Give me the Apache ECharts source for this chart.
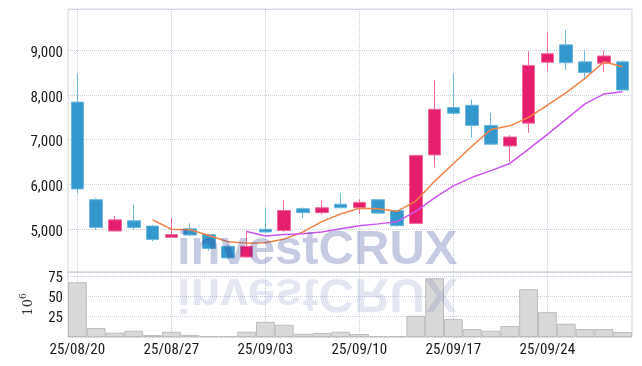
<!DOCTYPE html>
<html>
<head>
<meta charset="utf-8">
<script src="https://cdn.jsdelivr.net/npm/echarts@6/dist/echarts.min.js"></script>
<style>
html,body{margin:0;padding:0;background:#fff;}
#main{width:642px;height:366px;}
</style>
</head>
<body>
<div id="main"></div>
<script>
const dates = ['25/08/20','25/08/21','25/08/22','25/08/25','25/08/26','25/08/27','25/08/28','25/08/29','25/09/01','25/09/02','25/09/03','25/09/04','25/09/05','25/09/08','25/09/09','25/09/10','25/09/11','25/09/12','25/09/15','25/09/16','25/09/17','25/09/18','25/09/19','25/09/22','25/09/23','25/09/24','25/09/25','25/09/26','25/09/29','25/09/30'];
const openP  = [7840,5660,4960,5190,5070,4820,5010,4880,4620,4380,5000,4970,5460,5370,5560,5480,5660,5420,5130,6660,7720,7770,7320,6860,7370,8730,9120,8740,8710,8740];
const closeP = [5900,5040,5210,5040,4770,4880,4870,4570,4360,4620,4940,5420,5370,5480,5480,5600,5360,5080,6650,7680,7590,7320,6900,7060,8660,8920,8720,8500,8870,8110];
const lowP   = [5800,4990,4950,4990,4730,4810,4850,4520,4330,4370,4920,4940,5250,5330,5470,5340,5350,5060,5120,6390,7560,7040,6880,6510,7150,8540,8560,8390,8510,8110];
const highP  = [8480,5690,5300,5550,5100,5250,5130,4900,4660,4970,5480,5650,5490,5650,5810,5670,5670,5430,6660,8320,8480,7900,7600,7100,8980,9400,9450,8990,8990,8770];
const ma5  = [null,null,null,null,5210,5000,4990,4860,4720,4690,4700,4780,4940,5170,5340,5470,5460,5400,5630,6070,6470,6860,7230,7310,7500,7770,8050,8370,8740,8630];
const ma10 = [null,null,null,null,null,null,null,null,null,4950,4850,4880,4900,4940,5010,5080,5120,5170,5400,5700,5970,6160,6310,6470,6790,7120,7460,7800,8020,8070];
const volume = [67.4,11.0,5.3,7.7,2.4,6.5,2.6,1.2,1.2,6.5,18.7,15.1,4.0,5.0,6.5,3.7,1.2,1.2,26.1,72.3,22.0,9.8,7.7,13.5,58.8,30.6,16.3,9.8,9.8,6.1];

const candleData = dates.map((d,i)=>[openP[i], closeP[i], lowP[i], highP[i]]);

const labelFont = "'Liberation Sans Narrow','Roboto Condensed','Arial Narrow',sans-serif";
const gridLine = {show:true, lineStyle:{color:'#c8cfe0', type:'dotted', width:1}};
const vSplit = {show:true, alignWithLabel:true, interval:function(i){return i%5===0;}, lineStyle:{color:'#c8cfe0', type:'dotted', width:1}};

const chart = echarts.init(document.getElementById('main'), null, {renderer:'canvas'});
chart.setOption({
  animation:false,
  backgroundColor:'#fff',
  grid:[
    {left:68, right:10, top:9, height:263, show:true, borderColor:'#d4d6de', borderWidth:1, backgroundColor:'transparent'},
    {left:68, right:10, top:272, height:65, show:true, borderColor:'#d4d6de', borderWidth:1, backgroundColor:'transparent'}
  ],
  xAxis:[
    {type:'category', data:dates, gridIndex:0, boundaryGap:true,
     axisLine:{show:false}, axisTick:{show:false}, axisLabel:{show:false}, splitLine:vSplit},
    {type:'category', data:dates, gridIndex:1, boundaryGap:true,
     axisLine:{show:false}, axisTick:{show:false},
     axisLabel:{show:true, interval:4, fontFamily:labelFont, fontSize:15, color:'#1a1a1a', margin:6},
     splitLine:vSplit}
  ],
  yAxis:[
    {type:'value', gridIndex:0, min:4045, max:9920, splitNumber:5, scale:true,
     axisLine:{show:false}, axisTick:{show:false},
     axisLabel:{fontFamily:labelFont, fontSize:15, color:'#1a1a1a', margin:5, verticalAlign:'top', lineHeight:6, showMinLabel:false, showMaxLabel:false,
       formatter:function(v){return v.toLocaleString('en-US');}},
     splitLine:gridLine},
    {type:'value', gridIndex:1, min:0, max:80, interval:25,
     axisLine:{show:false}, axisTick:{show:false},
     axisLabel:{fontFamily:labelFont, fontSize:15, color:'#1a1a1a', margin:5, verticalAlign:'top', lineHeight:4, showMinLabel:false, showMaxLabel:false},
     splitLine:gridLine,
     name:'{b|10}{s|6}', nameLocation:'middle', nameRotate:90, nameGap:33,
     nameTextStyle:{rich:{
       b:{fontFamily:'DejaVu Serif', fontSize:13, color:'#333', verticalAlign:'bottom', lineHeight:16},
       s:{fontFamily:'DejaVu Serif', fontSize:9, color:'#333', verticalAlign:'top', lineHeight:16, padding:[0,0,6,0]}
     }}}
  ],
  series:[
    {type:'candlestick', name:'price', xAxisIndex:0, yAxisIndex:0, data:candleData, barWidth:13,
     itemStyle:{color:'#e61e6e', color0:'#3399cc', borderColor:'#f06a9c', borderColor0:'#6cb6dc', borderWidth:1}},
    {type:'line', name:'MA5', xAxisIndex:0, yAxisIndex:0, data:ma5, showSymbol:false, smooth:false,
     lineStyle:{color:'#f08448', width:1.5}, z:5},
    {type:'line', name:'MA10', xAxisIndex:0, yAxisIndex:0, data:ma10, showSymbol:false, smooth:false,
     lineStyle:{color:'#cc55ee', width:1.5}, z:5},
    {type:'bar', name:'volume', xAxisIndex:1, yAxisIndex:1, data:volume, barCategoryGap:0,
     itemStyle:{color:'#d9d9d9', borderColor:'#bdbdbd', borderWidth:1}}
  ],
  graphic:[
    {type:'text', z:100, x:177, y:250.5, style:{text:'investCRUX', font:"bold 49px 'Liberation Sans', Arial, sans-serif", fill:'rgba(50,70,150,0.28)', verticalAlign:'middle', align:'left'}},
    {type:'text', z:100, x:177, y:292.5, scaleY:-1, style:{text:'investCRUX', font:"bold 49px 'Liberation Sans', Arial, sans-serif", fill:'rgba(50,70,150,0.13)', verticalAlign:'middle', align:'left'}}
  ]
});
</script>
</body>
</html>
